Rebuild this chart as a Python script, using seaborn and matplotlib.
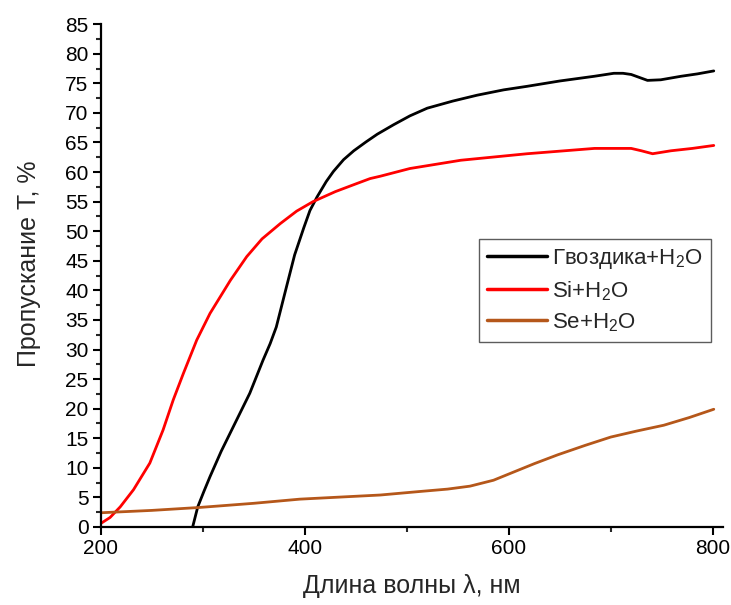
import numpy as np
import pandas as pd
import matplotlib
matplotlib.use("Agg")
import matplotlib.pyplot as plt
import seaborn as sns
from matplotlib.ticker import MultipleLocator

wl_black = [290, 295, 301, 307, 318, 330, 346, 359, 366, 372, 377, 382, 390, 399, 405, 412, 421, 428, 438, 448, 460, 471, 487, 503, 520, 545, 569, 595, 618, 650, 684, 703, 712, 720, 728, 736, 749, 769, 785, 801]
t_black = [0, 3.4, 6.0, 8.5, 12.8, 17.0, 22.6, 28.2, 31.0, 33.8, 37.2, 40.6, 46.0, 50.6, 53.5, 55.8, 58.4, 60.1, 62.1, 63.6, 65.1, 66.4, 68.0, 69.5, 70.8, 72.0, 73.0, 73.9, 74.5, 75.4, 76.2, 76.7, 76.7, 76.5, 76.0, 75.5, 75.6, 76.2, 76.6, 77.1]

wl_red = [200, 209, 219, 232, 248, 261, 271, 281, 294, 307, 327, 343, 358, 376, 392, 408, 430, 450, 464, 474, 503, 553, 618, 684, 720, 730, 741, 759, 780, 801]
t_red = [0.6, 1.6, 3.4, 6.3, 10.8, 16.4, 21.5, 26.0, 31.6, 36.1, 41.7, 45.7, 48.7, 51.3, 53.4, 55.0, 56.7, 58.0, 58.9, 59.3, 60.6, 62.0, 63.1, 64.0, 64.0, 63.6, 63.1, 63.6, 64.0, 64.5]

wl_brown = [200, 250, 297, 350, 395, 440, 474, 513, 540, 562, 585, 605, 625, 648, 675, 700, 725, 752, 777, 801]
t_brown = [2.4, 2.8, 3.3, 4.0, 4.7, 5.1, 5.4, 6.0, 6.4, 6.9, 7.9, 9.3, 10.7, 12.2, 13.8, 15.2, 16.2, 17.2, 18.5, 19.9]

labels = ["Гвоздика+H$_2$O", "Si+H$_2$O", "Se+H$_2$O"]
colors = ["#000000", "#FF0000", "#B5571A"]

df = pd.concat([
    pd.DataFrame({"wl": wl_black, "T": t_black, "s": labels[0]}),
    pd.DataFrame({"wl": wl_red, "T": t_red, "s": labels[1]}),
    pd.DataFrame({"wl": wl_brown, "T": t_brown, "s": labels[2]}),
], ignore_index=True)

sns.set_style("ticks")
plt.rcParams["font.family"] = ["Liberation Sans", "DejaVu Sans"]
plt.rcParams["mathtext.fontset"] = "custom"
plt.rcParams["mathtext.rm"] = "Liberation Sans"
plt.rcParams["mathtext.it"] = "Liberation Sans"
plt.rcParams["mathtext.default"] = "regular"

fig = plt.figure(figsize=(7.31, 6.05), dpi=100)
ax = fig.add_axes([0.138, 0.129, 0.851, 0.831])

sns.lineplot(data=df, x="wl", y="T", hue="s", palette=dict(zip(labels, colors)),
             linewidth=2.0, ax=ax, sort=False, estimator=None)
for ln in ax.get_lines():
    ln.set_solid_joinstyle("round")

ax.set_xlim(200, 810)
ax.set_ylim(0, 85)
ax.xaxis.set_major_locator(MultipleLocator(200))
ax.xaxis.set_minor_locator(MultipleLocator(100))
ax.yaxis.set_major_locator(MultipleLocator(5))
ax.yaxis.set_minor_locator(MultipleLocator(2.5))
ax.tick_params(which="major", direction="out", length=6, width=1.5, labelsize=15, colors="black", pad=3)
ax.tick_params(which="minor", direction="out", length=3.5, width=1.5)
for s in ["left", "bottom"]:
    ax.spines[s].set_linewidth(1.6)
    ax.spines[s].set_color("black")
for s in ["top", "right"]:
    ax.spines[s].set_visible(False)

ax.set_xlabel("Длина волны λ, нм", fontsize=18, labelpad=11)
ax.set_ylabel("Пропускание Т, %", fontsize=18)
ax.yaxis.set_label_coords(-0.097, 0.523)

leg = ax.legend(loc="upper left", bbox_to_anchor=(0.608, 0.573), fontsize=16,
                frameon=True, fancybox=False, handlelength=2.7, handletextpad=0.25,
                borderpad=0.35, labelspacing=0.38, borderaxespad=0)
leg.get_frame().set_edgecolor("#333333")
leg.get_frame().set_linewidth(1.0)
for line in leg.get_lines():
    line.set_linewidth(2.5)

fig.savefig("out.png", dpi=100)
